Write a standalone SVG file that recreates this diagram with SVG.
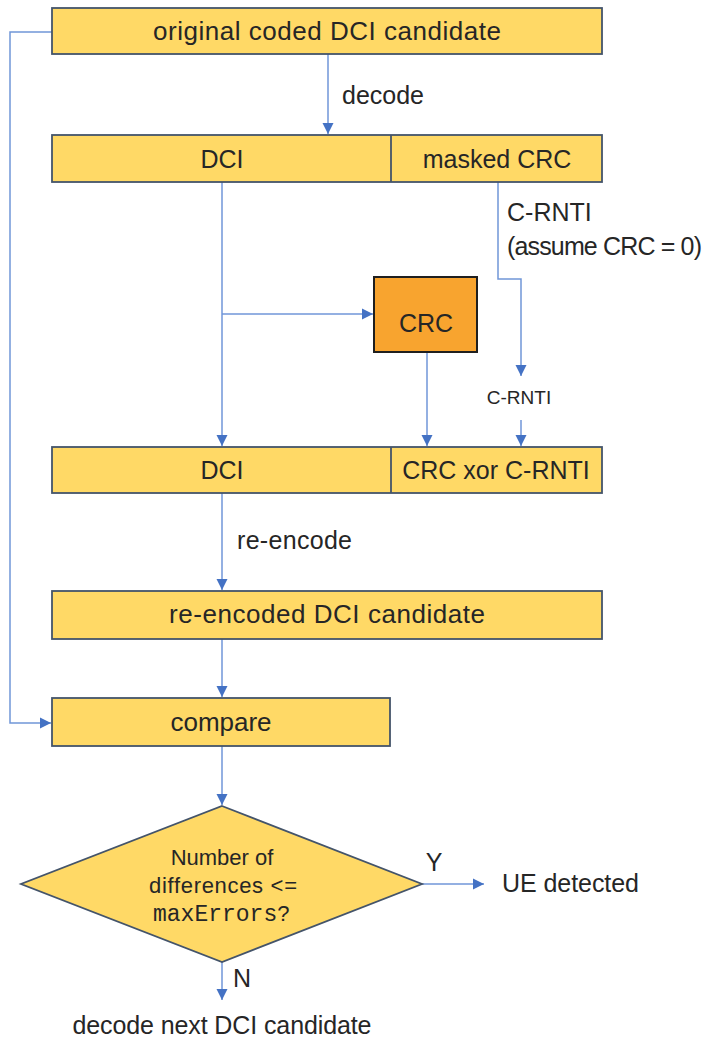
<svg xmlns="http://www.w3.org/2000/svg" width="706" height="1037" viewBox="0 0 706 1037">
<defs>
<style>
.box{fill:#FFD966;stroke:#44546A;stroke-width:1.8}
.crc{fill:#F8A42F;stroke:#1F1F1F;stroke-width:2}
.t{font-family:"Liberation Sans",Arial,sans-serif;font-size:25px;fill:#262626}
.b{font-size:26px}
.m{text-anchor:middle}
.s{font-size:19px}
.d{font-size:22px}
.mono{font-family:"Liberation Mono","Courier New",monospace;font-size:23px}
.c{fill:none;stroke:#7096D8;stroke-width:1.5}
</style>
<marker id="ah" markerUnits="userSpaceOnUse" markerWidth="12" markerHeight="12" viewBox="0 0 12 12" refX="11" refY="6" orient="auto">
<path d="M0,0.5 L11,6 L0,11.5 Z" fill="#4472C4"/>
</marker>
</defs>
<rect width="706" height="1037" fill="#FFFFFF"/>
<g id="connectors">
<path class="c" d="M52,32 H10 V723 H51" marker-end="url(#ah)"/>
<path class="c" d="M328,54 V134" marker-end="url(#ah)"/>
<path class="c" d="M222,182 V446" marker-end="url(#ah)"/>
<path class="c" d="M222,314 H373" marker-end="url(#ah)"/>
<path class="c" d="M498,182 V279 H521 V376" marker-end="url(#ah)"/>
<path class="c" d="M521,420 V446" marker-end="url(#ah)"/>
<path class="c" d="M427,352 V446" marker-end="url(#ah)"/>
<path class="c" d="M222,493 V590" marker-end="url(#ah)"/>
<path class="c" d="M222,639 V697" marker-end="url(#ah)"/>
<path class="c" d="M222,746 V805" marker-end="url(#ah)"/>
<path class="c" d="M422,884 H484" marker-end="url(#ah)"/>
<path class="c" d="M222,962 V1000" marker-end="url(#ah)"/>
</g>
<g id="n-original">
<rect class="box" x="52" y="8" width="550" height="46"/>
<text class="t b m" x="327" y="40" textLength="348" lengthAdjust="spacing">original coded DCI candidate</text>
</g>
<text id="l-decode" class="t" x="342" y="104">decode</text>
<g id="n-dci-masked">
<rect class="box" x="52" y="135" width="550" height="47"/>
<line x1="391" y1="135" x2="391" y2="182" stroke="#44546A" stroke-width="1.8"/>
<text class="t m" x="222" y="168">DCI</text>
<text class="t m" x="497" y="168">masked CRC</text>
</g>
<g id="l-crnti">
<text class="t" x="507" y="221" font-size="23">C-RNTI</text>
<text class="t" x="507" y="255" font-size="23" textLength="195" lengthAdjust="spacing">(assume CRC = 0)</text>
</g>
<g id="n-crc">
<rect class="crc" x="374" y="277" width="103" height="75"/>
<text class="t m" x="426" y="332">CRC</text>
</g>
<text id="l-crnti2" class="t s m" x="519" y="404">C-RNTI</text>
<g id="n-dci-xor">
<rect class="box" x="52" y="447" width="550" height="46"/>
<line x1="391" y1="447" x2="391" y2="493" stroke="#44546A" stroke-width="1.8"/>
<text class="t m" x="222" y="479">DCI</text>
<text class="t m" x="496" y="479" font-size="23">CRC xor C-RNTI</text>
</g>
<text id="l-reencode" class="t" x="237" y="549" textLength="115" lengthAdjust="spacing">re-encode</text>
<g id="n-reencoded">
<rect class="box" x="52" y="591" width="550" height="48"/>
<text class="t b m" x="327" y="623" textLength="316" lengthAdjust="spacing">re-encoded DCI candidate</text>
</g>
<g id="n-compare">
<rect class="box" x="52" y="698" width="338" height="48"/>
<text class="t b m" x="221" y="731">compare</text>
</g>
<g id="n-decision">
<polygon class="box" points="222,806 422,884 222,962 21,884"/>
<text class="t d m" x="222" y="865">Number of</text>
<text class="t d m" x="223" y="893" textLength="148" lengthAdjust="spacing">differences &lt;=</text>
<text class="t d" x="153" y="921"><tspan class="mono">maxErrors</tspan>?</text>
</g>
<text id="l-y" class="t m" x="434" y="871" font-size="22">Y</text>
<text id="n-ue" class="t" x="502" y="892" textLength="137" lengthAdjust="spacing">UE detected</text>
<text id="l-n" class="t" x="233" y="987" font-size="22">N</text>
<text id="n-next" class="t m" x="222" y="1034" textLength="299" lengthAdjust="spacing">decode next DCI candidate</text>
</svg>
